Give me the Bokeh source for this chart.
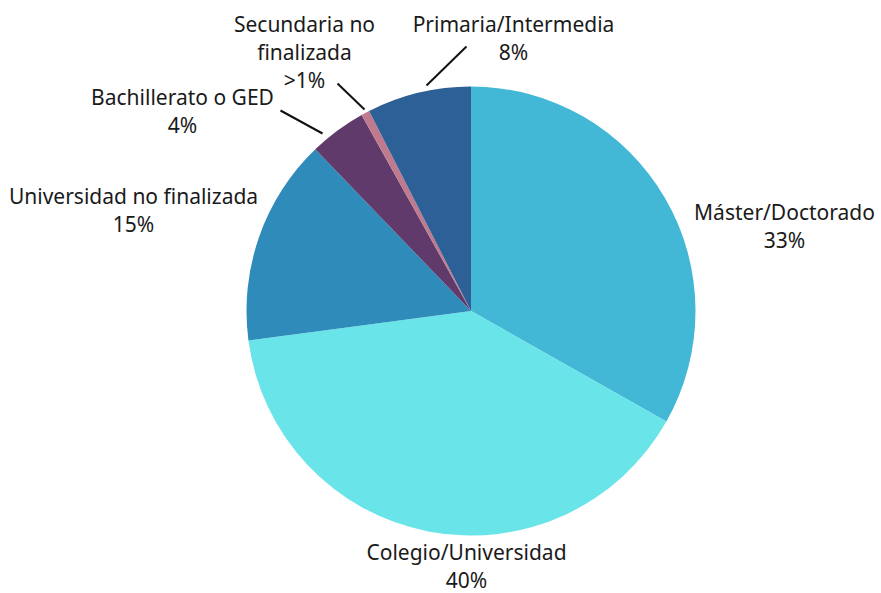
import math
from bokeh.plotting import figure
from bokeh.models import Range1d, ColumnDataSource
from bokeh.embed import file_html
from bokeh.resources import INLINE
from bokeh.core.properties import value

# ---- data ----
categories = ["Máster/Doctorado", "Colegio/Universidad", "Universidad no finalizada",
              "Bachillerato o GED", "Secundaria no finalizada", "Primaria/Intermedia"]
values = [33.2, 39.7, 14.9, 4.1, 0.6, 7.5]
pct_labels = ["33%", "40%", "15%", "4%", ">1%", "8%"]
label_names = ["Máster/Doctorado", "Colegio/Universidad", "Universidad no finalizada",
               "Bachillerato o GED", "Secundaria no\nfinalizada", "Primaria/Intermedia"]

# ---- styles / layout ----
colors = ["#43B8D6", "#69E4E8", "#2E8BBA", "#5F3A6A", "#C07A8E", "#2E6098"]
W, H = 881, 593
CX, CY, R = 470.5, H - 310.5, 224.5
FONT = "Noto Sans"
# label anchor (screen coords: x, top y)
label_pos = [(784, 197), (466, 537), (133, 181), (182, 82), (304, 9), (513, 9)]
# leader lines (screen coords)
leaders = [None, None, None, ((280, 110), (322, 133)), ((337, 83), (364, 109)), ((426, 85), (466, 46))]

p = figure(width=W, height=H, output_backend="svg", toolbar_location=None,
           x_range=Range1d(0, W), y_range=Range1d(0, H), min_border=0)
p.axis.visible = False
p.grid.visible = False
p.outline_line_color = None
p.background_fill_color = "white"

total = sum(values)
starts, ends = [], []
cum = 0.0
for v in values:
    starts.append(math.pi / 2 - 2 * math.pi * cum / total)
    cum += v
    ends.append(math.pi / 2 - 2 * math.pi * cum / total)

src = ColumnDataSource(dict(start=starts, end=ends, color=colors))
p.wedge(x=CX, y=CY, radius=R, radius_units="data", start_angle="start", end_angle="end",
        direction="clock", fill_color="color", line_color=None, source=src)

for ld in leaders:
    if ld:
        (x0, y0), (x1, y1) = ld
        p.line([x0, x1], [H - y0, H - y1], line_color="#111111", line_width=2)

texts = [f"{n}\n{pc}" for n, pc in zip(label_names, pct_labels)]
tsrc = ColumnDataSource(dict(x=[lp[0] for lp in label_pos], y=[H - lp[1] for lp in label_pos], t=texts))
p.text(x="x", y="y", text="t", source=tsrc, text_align="center", text_baseline="top",
       text_font=value(FONT), text_font_size="21px", text_color="#1a1a1a", text_line_height=1.0)

open("out.html", "w").write(file_html(p, INLINE))
